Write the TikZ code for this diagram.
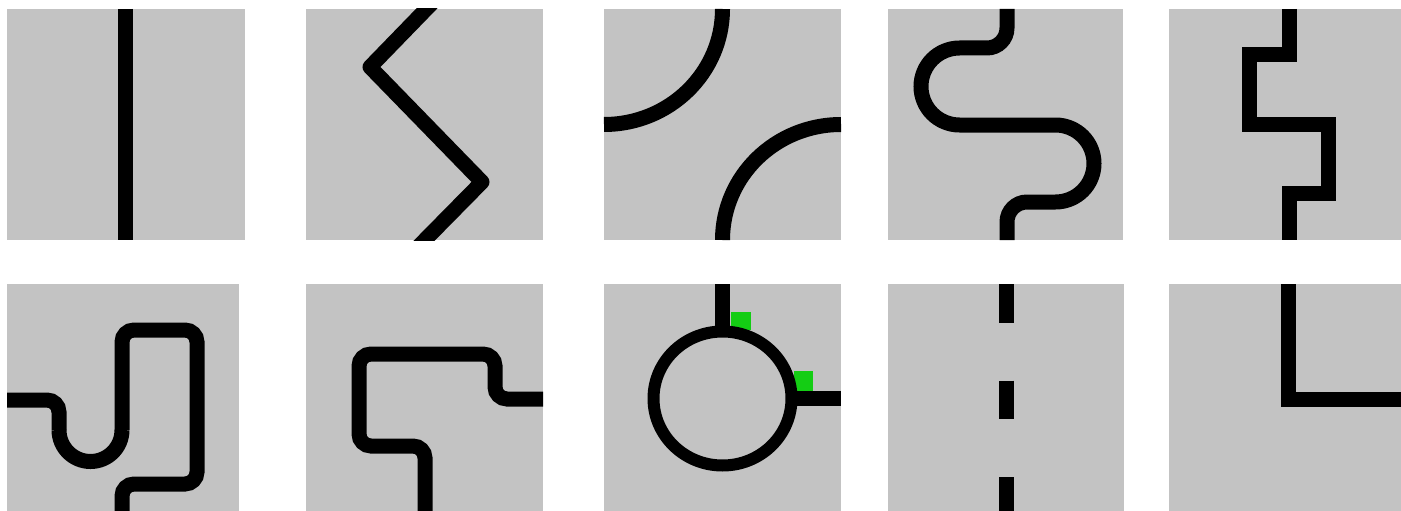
\documentclass[tikz,border=0pt]{standalone}
\definecolor{tilegray}{RGB}{195,195,195}
\definecolor{markgreen}{RGB}{20,205,20}
\begin{document}
\begin{tikzpicture}[x=1pt,y=1pt,yscale=-1,
  tile/.style={fill=tilegray},
  track/.style={draw=black,line width=15pt},
  roundtrack/.style={track,rounded corners=12pt},
  ring/.style={draw=black,line width=12pt},
  marker/.style={fill=markgreen}]
\fill[white] (0,0) rectangle (1401,511);
\foreach \xa/\xb in {7/245,306/543,604/841,888/1123,1169/1401}
  \fill[tile] (\xa,9) rectangle (\xb,240);
\foreach \xa/\xb in {7/239,306/543,604/841,888/1124,1169/1401}
  \fill[tile] (\xa,284) rectangle (\xb,511);
\draw[track] (125.5,9) -- (125.5,240);
\begin{scope}
  \clip (306,9) rectangle (543,240);
  \draw[track,line join=round] (436,-1) -- (370,67) -- (482,182) -- (415,250);
\end{scope}
\draw[track] (722.5,9) arc[start angle=0,end angle=90,x radius=118.5,y radius=115.5];
\draw[track] (841,124.5) arc[start angle=270,end angle=180,x radius=118.5,y radius=115.5];
\draw[track] (1007,9) -- (1007,28) arc[start angle=0,end angle=90,radius=20]
  -- (959.5,48) arc[start angle=270,end angle=90,radius=38.5]
  -- (1055.5,125) arc[start angle=-90,end angle=90,radius=38.5]
  -- (1027,202) arc[start angle=270,end angle=180,radius=20] -- (1007,240);
\draw[track] (1289,9) -- (1289,55) -- (1249,55) -- (1249,124) -- (1328,124)
  -- (1328,193) -- (1289,193) -- (1289,240);
\draw[roundtrack] (7,400) -- (59,400) -- (59,430);
\draw[track] (59,430) arc[start angle=180,end angle=0,radius=31.5];
\draw[roundtrack] (122,430) -- (122,330) -- (197,330) -- (197,484) -- (122,484) -- (122,511);
\draw[roundtrack] (543,399) -- (495,399) -- (495,354) -- (359,354) -- (359,446)
  -- (425,446) -- (425,511);
\fill[marker] (731,312) rectangle (751,330);
\fill[marker] (794,371) rectangle (813,390.5);
\draw[track] (722.5,284) -- (722.5,334);
\draw[track] (789,398.5) -- (841,398.5);
\draw[ring] (722.5,398.5) ellipse[x radius=69,y radius=67];
\draw[track,dash pattern=on 38.7pt off 58pt] (1006.5,284) -- (1006.5,511);
\draw[track] (1288,284) -- (1288,399) -- (1401,399);
\pgfresetboundingbox
\path[use as bounding box] (0,0) rectangle (1401,511);
\end{tikzpicture}
\end{document}
